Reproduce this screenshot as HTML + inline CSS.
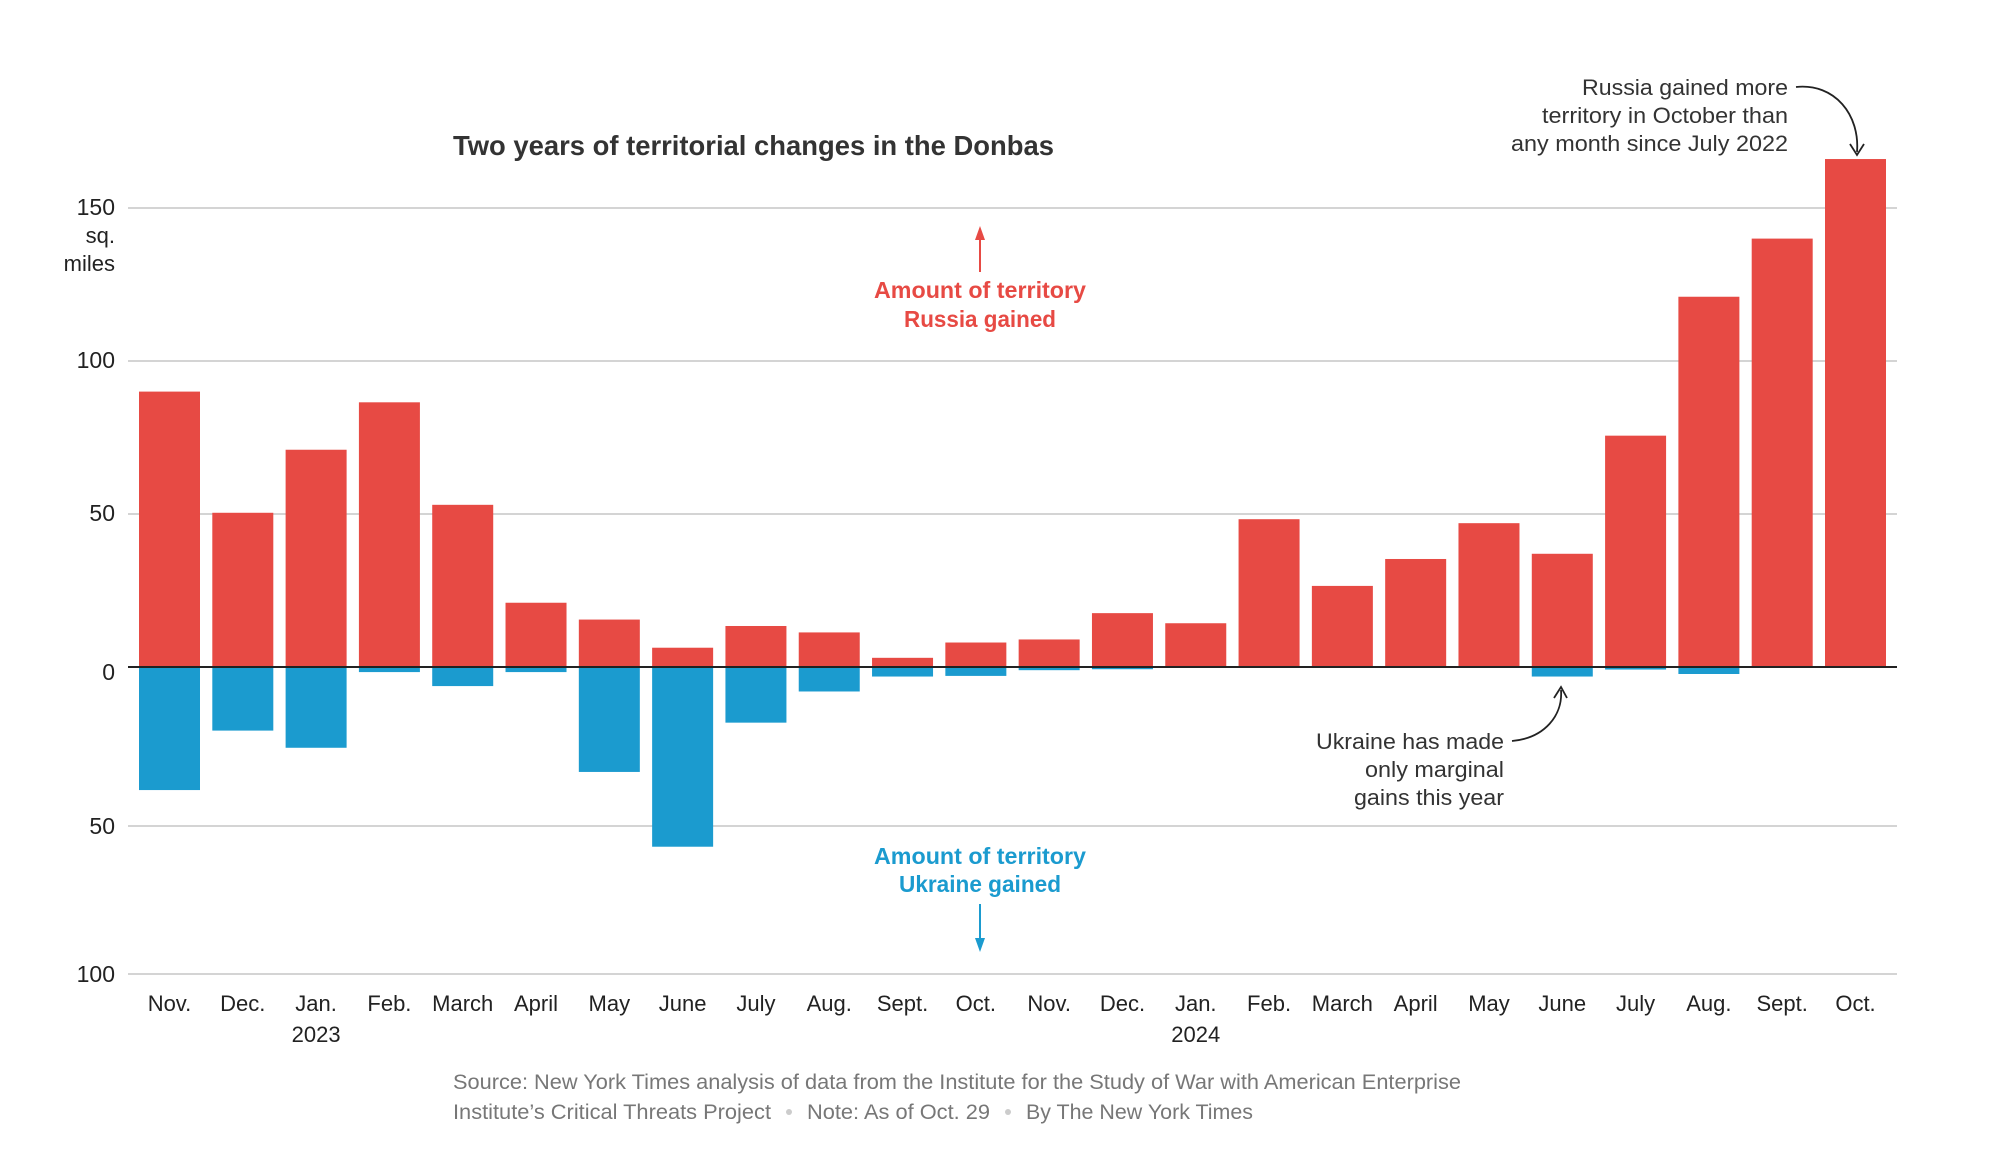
<!DOCTYPE html>
<html><head><meta charset="utf-8"><style>
html,body{margin:0;padding:0;background:#fff;}
svg{display:block;font-family:"Liberation Sans",sans-serif;}
</style></head><body>
<svg id="chart" width="2000" height="1150" viewBox="0 0 2000 1150" xmlns="http://www.w3.org/2000/svg">
<text x="453" y="155" font-size="28" font-weight="bold" fill="#333" textLength="601" lengthAdjust="spacingAndGlyphs">Two years of territorial changes in the Donbas</text>
<g id="grid"></g>
<g id="bars"></g>
<g id="xlabels"></g>
<line x1="128" x2="1897" y1="667" y2="667" stroke="#222" stroke-width="2"/>
<g font-size="22" fill="#222" text-anchor="end">
<text x="115" y="243">sq.</text><text x="115" y="271">miles</text></g>
<g fill="#e74a44" font-weight="bold" font-size="23" text-anchor="middle">
<line x1="980" x2="980" y1="272" y2="238" stroke="#e74a44" stroke-width="2"/>
<polygon points="980,226 975,240 985,240"/>
<text x="980" y="298" textLength="212" lengthAdjust="spacingAndGlyphs">Amount of territory</text>
<text x="980" y="327" textLength="152" lengthAdjust="spacingAndGlyphs">Russia gained</text></g>
<g fill="#1b9bcf" font-weight="bold" font-size="23" text-anchor="middle">
<text x="980" y="864" textLength="212" lengthAdjust="spacingAndGlyphs">Amount of territory</text>
<text x="980" y="892" textLength="162" lengthAdjust="spacingAndGlyphs">Ukraine gained</text>
<line x1="980" x2="980" y1="904" y2="940" stroke="#1b9bcf" stroke-width="2"/>
<polygon points="980,952 975,938 985,938"/></g>
<g font-size="22" fill="#333" text-anchor="end">
<text x="1788" y="95" textLength="206" lengthAdjust="spacingAndGlyphs">Russia gained more</text>
<text x="1788" y="123" textLength="246" lengthAdjust="spacingAndGlyphs">territory in October than</text>
<text x="1788" y="151" textLength="277" lengthAdjust="spacingAndGlyphs">any month since July 2022</text>
<path d="M1796,87 C1835,83 1860,115 1857,152" fill="none" stroke="#222" stroke-width="1.8"/>
<path d="M1850,144 L1857,155 L1864,144" fill="none" stroke="#222" stroke-width="1.8"/></g>
<g font-size="22" fill="#333" text-anchor="end">
<text x="1504" y="749" textLength="188" lengthAdjust="spacingAndGlyphs">Ukraine has made</text>
<text x="1504" y="777" textLength="139" lengthAdjust="spacingAndGlyphs">only marginal</text>
<text x="1504" y="805" textLength="150" lengthAdjust="spacingAndGlyphs">gains this year</text>
<path d="M1512,741 C1545,738 1563,715 1561,690" fill="none" stroke="#222" stroke-width="1.8"/>
<path d="M1554,698 L1561,687 L1567,698" fill="none" stroke="#222" stroke-width="1.8"/></g>
<g font-size="21" fill="#777">
<text x="453" y="1089" textLength="1008" lengthAdjust="spacingAndGlyphs">Source: New York Times analysis of data from the Institute for the Study of War with American Enterprise</text>
<text x="453" y="1119" textLength="318" lengthAdjust="spacingAndGlyphs">Institute’s Critical Threats Project</text>
<circle cx="789" cy="1112" r="3" fill="#ccc"/>
<text x="807" y="1119" textLength="183" lengthAdjust="spacingAndGlyphs">Note: As of Oct. 29</text>
<circle cx="1008" cy="1112" r="3" fill="#ccc"/>
<text x="1026" y="1119" textLength="227" lengthAdjust="spacingAndGlyphs">By The New York Times</text></g>
</svg>
<script>
const months = ["Nov.","Dec.","Jan.","Feb.","March","April","May","June","July","Aug.","Sept.","Oct.","Nov.","Dec.","Jan.","Feb.","March","April","May","June","July","Aug.","Sept.","Oct."];
const yearLabels = ["","","2023","","","","","","","","","","","","2024","","","","","","","","",""];
const russiaGained = [90,50.4,71,86.5,53,21,15.5,6.3,13.4,11.3,3,8,9,17.6,14.3,48.3,26.5,35.3,47,37,75.6,121,140,166];
const ukraineGained = [38.7,20,25.4,1.6,6,1.6,33,57,17.5,7.7,3,2.8,1,0.7,0,0,0,0,0,3,0.8,2.2,0,0];
const upTicks = [0,50,100,150];
const downTicks = [50,100];

const NS = "http://www.w3.org/2000/svg";
const Y0 = 667, PXU = 3.06;
function yUp(v){ return Y0 - v*PXU; }
function yDown(v){ return v<=50 ? Y0 + v*3.18 : Y0 + 159 + (v-50)*2.96; }
const X0 = 139, STEP = (1825-139)/23, BW = 61;
function xBand(i){ return X0 + i*STEP; }
function mk(tag, attrs, parent){ const e=document.createElementNS(NS,tag); for(const k in attrs) e.setAttribute(k,attrs[k]); parent.appendChild(e); return e; }

const grid = document.getElementById('grid');
upTicks.forEach(t=>{
  const y=yUp(t);
  if(t>0){ const l=mk('line',{x1:128,x2:1897,y1:y,y2:y,stroke:'#d4d4d4','stroke-width':2},grid);
  
   }
  const tx=mk('text',{x:115,y:y+(t===0?13:7),'text-anchor':'end','font-size':23,fill:'#222'},grid);
  tx.textContent=t;
  
  
});
downTicks.forEach(t=>{
  const y=yDown(t);
  const l=mk('line',{x1:128,x2:1897,y1:y,y2:y,stroke:'#d4d4d4','stroke-width':2},grid);
  
  
  const tx=mk('text',{x:115,y:y+8,'text-anchor':'end','font-size':23,fill:'#222'},grid);
  tx.textContent=t;
  
  
});

const bars = document.getElementById('bars');
const xl = document.getElementById('xlabels');
months.forEach((m,i)=>{
  const x=xBand(i);
  const r=russiaGained[i];
  if(r>0){ const b=mk('rect',{x:x,y:yUp(r),width:BW,height:Y0-yUp(r),fill:'#e74a44'},bars);
  
   }
  const u=ukraineGained[i];
  if(u>0){ const b=mk('rect',{x:x,y:Y0,width:BW,height:yDown(u)-Y0,fill:'#1b9bcf'},bars);
  
   }
  const t=mk('text',{x:x+BW/2,y:1011,'text-anchor':'middle','font-size':22,fill:'#222'},xl);
  t.textContent=m;
  
  
  if(yearLabels[i]){ const t2=mk('text',{x:x+BW/2,y:1042,'text-anchor':'middle','font-size':22,fill:'#222'},xl);
  t2.textContent=yearLabels[i];
  
   }
});
</script>
</body></html>
